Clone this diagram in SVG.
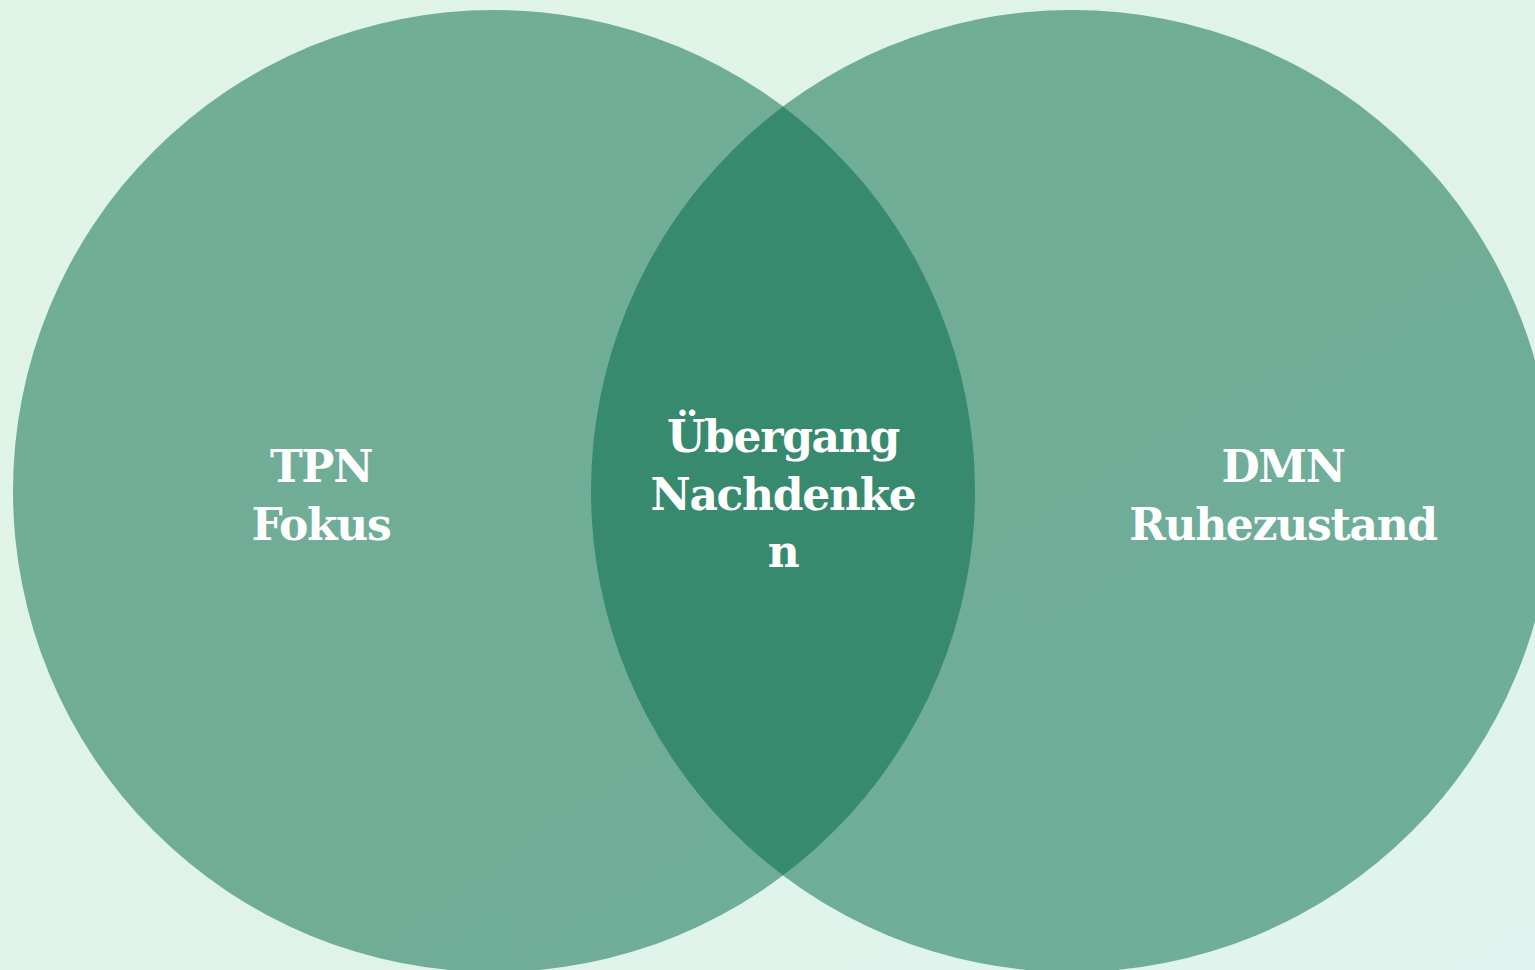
<svg xmlns="http://www.w3.org/2000/svg" width="1535" height="970" viewBox="0 0 1535 970">
  <defs>
    <linearGradient id="bg" x1="0" y1="0" x2="1" y2="1">
      <stop offset="0" stop-color="#e0f4e7"/>
      <stop offset="0.5" stop-color="#dff3e8"/>
      <stop offset="1" stop-color="#dff4ee"/>
    </linearGradient>
    <style>
      .set { fill: #006745; fill-opacity: 0.5; }
      .lbl { font-family: "DejaVu Serif", "Liberation Serif", serif; font-weight: bold; font-size: 44px; letter-spacing: -1.3px; fill: #ffffff; text-anchor: middle; }
    </style>
  </defs>
  <rect x="0" y="0" width="1535" height="970" fill="url(#bg)"/>
  <g id="set-tpn">
    <circle class="set" cx="494" cy="491" r="481"/>
    <text class="lbl" x="321" y="482">TPN</text>
    <text class="lbl" x="321" y="540">Fokus</text>
  </g>
  <g id="set-dmn">
    <circle class="set" cx="1072" cy="491" r="481"/>
    <text class="lbl" x="1283" y="482">DMN</text>
    <text class="lbl" x="1283" y="540">Ruhezustand</text>
  </g>
  <g id="overlap">
    <text class="lbl" x="783" y="452">Übergang</text>
    <text class="lbl" x="783" y="510">Nachdenke</text>
    <text class="lbl" x="783" y="567">n</text>
  </g>
  <g id="connectors"/>
</svg>
